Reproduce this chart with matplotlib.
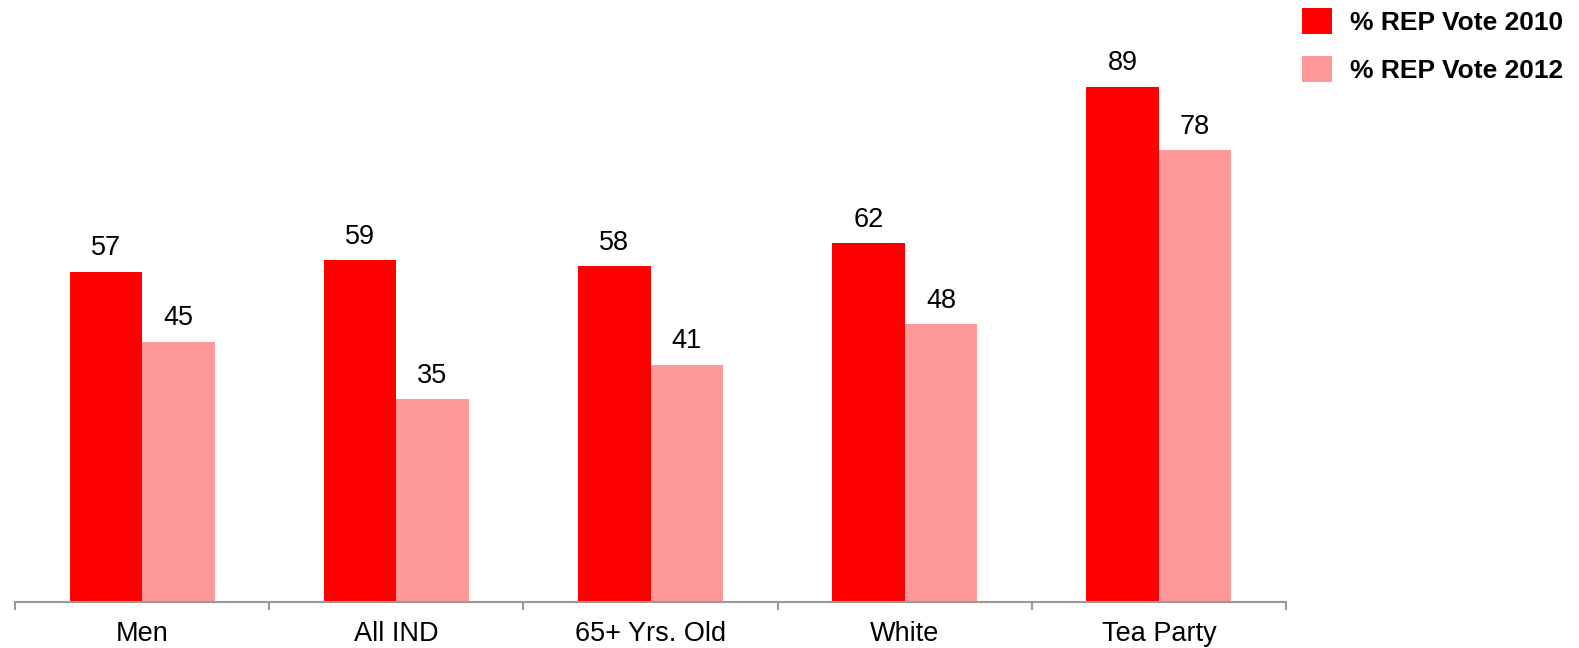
import numpy as np
import matplotlib.pyplot as plt
from matplotlib.patches import Patch

plt.rcParams['font.family'] = ['Liberation Sans', 'DejaVu Sans']

categories = ['Men', 'All IND', '65+ Yrs. Old', 'White', 'Tea Party']
vote_2010 = [57, 59, 58, 62, 89]
vote_2012 = [45, 35, 41, 48, 78]
series_names = ['% REP Vote 2010', '% REP Vote 2012']
colors = ['#FF0000', '#FF9999']

W, H = 1579, 648
fig = plt.figure(figsize=(W / 100, H / 100), dpi=100)
# axes placed in pixel terms: baseline at y=602, spanning x=15..1286
ax = fig.add_axes([15 / W, (H - 602) / H, (1286 - 15) / W, 602 / H])

x = np.arange(len(categories))
bw = 0.285
bars1 = ax.bar(x - bw / 2, vote_2010, bw, color=colors[0], linewidth=0)
bars2 = ax.bar(x + bw / 2, vote_2012, bw, color=colors[1], linewidth=0)

for bars, vals in [(bars1, vote_2010), (bars2, vote_2012)]:
    for b, v in zip(bars, vals):
        ax.annotate(str(v), (b.get_x() + b.get_width() / 2, v),
                    xytext=(0, 17), textcoords='offset points',
                    ha='center', va='center', fontsize=19.5)

ax.set_xlim(-0.5, len(categories) - 0.5)
ax.set_ylim(0, 104)

for s in ['top', 'right', 'left']:
    ax.spines[s].set_visible(False)
ax.spines['bottom'].set_color('#999999')
ax.spines['bottom'].set_linewidth(1.5)
ax.set_yticks([])

# tick marks at category boundaries, labels centred on each group
ax.set_xticks(np.arange(len(categories) + 1) - 0.5)
ax.set_xticklabels([])
ax.tick_params(axis='x', which='major', direction='out', length=6,
               width=1.5, color='#999999')
ax.set_xticks(x, minor=True)
ax.set_xticklabels(categories, minor=True, fontsize=19.5)
ax.tick_params(axis='x', which='minor', length=0, pad=13.5)

handles = [Patch(facecolor=c, edgecolor='none') for c in colors]
fig.legend(handles, series_names, loc='upper left',
           bbox_to_anchor=(1302 / W, 1 - 8 / H), frameon=False,
           prop={'weight': 'bold', 'size': 19},
           handlelength=1.15, handleheight=1.15, handletextpad=0.65,
           labelspacing=0.8, borderaxespad=0, borderpad=0)

fig.savefig('out.png', dpi=100)
